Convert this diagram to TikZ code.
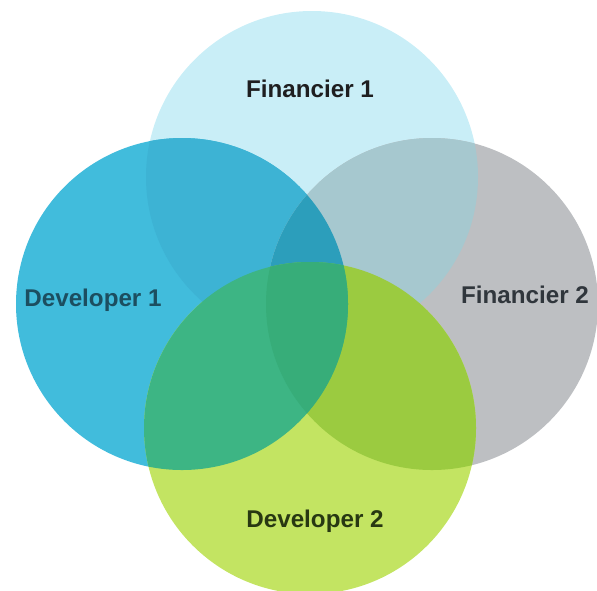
\documentclass[tikz,border=0pt]{standalone}
\usepackage{fontspec}
\setmainfont{Liberation Sans}
\usetikzlibrary{positioning}
\definecolor{vennfinone}{RGB}{201,238,247}
\definecolor{venndevone}{RGB}{65,188,220}
\definecolor{vennfintwo}{RGB}{189,191,194}
\definecolor{venndevtwo}{RGB}{195,228,98}
% colours of the overlaps
\definecolor{vennfinonedevone}{RGB}{61,179,212}
\definecolor{vennfinonefintwo}{RGB}{166,200,207}
\definecolor{venndevonefintwo}{RGB}{44,158,187}
\definecolor{venndevonedevtwo}{RGB}{61,181,132}
\definecolor{vennfintwodevtwo}{RGB}{155,203,64}
\definecolor{venncentre}{RGB}{55,173,121}
\tikzset{
    venn label/.style={
        font=\fontsize{12.1}{14}\selectfont\bfseries,
        inner sep=0pt,
        anchor=base
    },
    venn radius/.style={radius=83pt}
}

\begin{document}
\begin{tikzpicture}[x=0.5pt,y=-0.5pt,venn radius]
    \useasboundingbox (0,0) rectangle (597,590);

    %Centres of the four circles
    \coordinate (fin1) at (312,177);
    \coordinate (dev1) at (182,304);
    \coordinate (fin2) at (432,304);
    \coordinate (dev2) at (310,428);

    %Plain circles
    \fill[vennfinone] (fin1) circle;
    \fill[vennfintwo] (fin2) circle;
    \fill[venndevone] (dev1) circle;
    \fill[venndevtwo] (dev2) circle;

    %Pairwise overlaps
    \begin{scope}
        \clip (fin1) circle;
        \fill[vennfinonedevone] (dev1) circle;
    \end{scope}
    \begin{scope}
        \clip (fin1) circle;
        \fill[vennfinonefintwo] (fin2) circle;
    \end{scope}
    \begin{scope}
        \clip (dev1) circle;
        \fill[venndevonefintwo] (fin2) circle;
    \end{scope}
    \begin{scope}
        \clip (fin2) circle;
        \fill[vennfintwodevtwo] (dev2) circle;
    \end{scope}
    \begin{scope}
        \clip (dev1) circle;
        \fill[venndevonedevtwo] (dev2) circle;
    \end{scope}

    %Middle, where three of them meet
    \begin{scope}
        \clip (dev1) circle;
        \clip (fin2) circle;
        \fill[venncentre] (dev2) circle;
    \end{scope}

    \node[venn label, text={rgb,255:red,30;green,30;blue,32}] (fin1-label) at (310,97) {Financier 1};
    \node[venn label, text={rgb,255:red,28;green,78;blue,96}] (dev1-label) at (93,306) {Developer 1};
    \node[venn label, text={rgb,255:red,48;green,54;blue,60}] (fin2-label) at (525,303) {Financier 2};
    \node[venn label, text={rgb,255:red,40;green,56;blue,18}] (dev2-label) at (315,527) {Developer 2};
\end{tikzpicture}
\end{document}
